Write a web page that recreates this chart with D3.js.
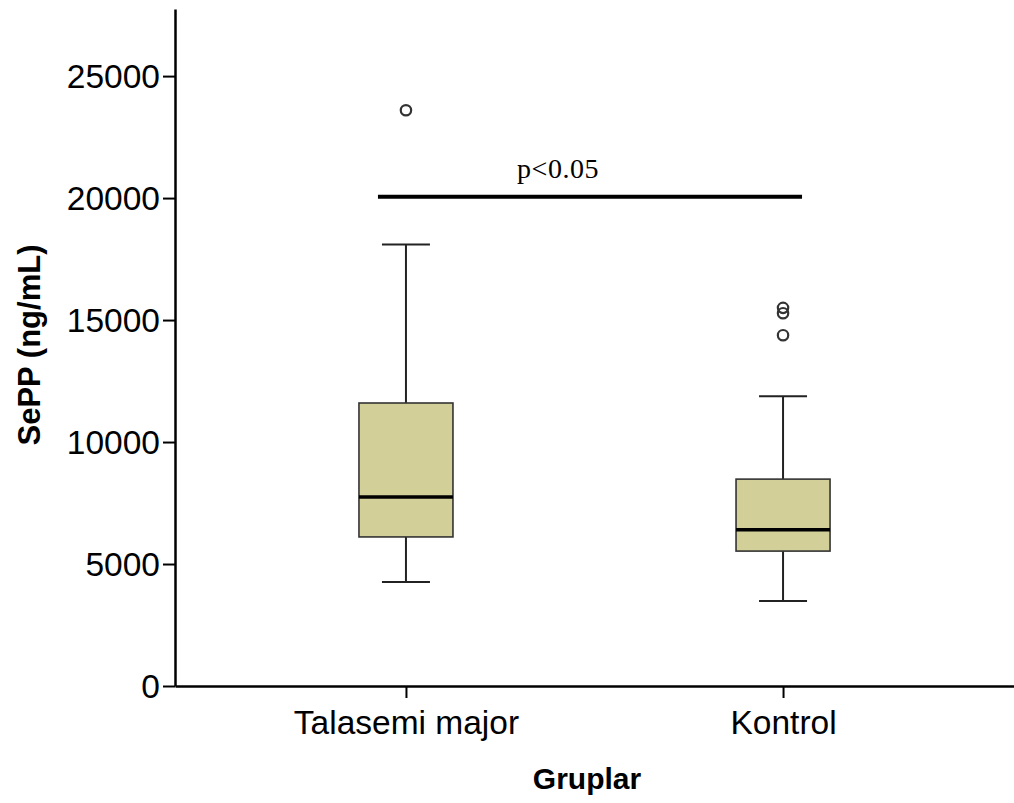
<!DOCTYPE html>
<html>
<head>
<meta charset="utf-8">
<script src="https://cdn.jsdelivr.net/npm/d3@7/dist/d3.min.js"></script>
<style>
  html, body { margin: 0; padding: 0; background: #fff; }
  svg { display: block; }
</style>
</head>
<body>
<svg id="chart" width="1014" height="803"></svg>
<script>
// Groups and five-number summaries of SePP (ng/mL)
const groups = ["Talasemi major", "Kontrol"];
const whiskerLow  = [4260, 3480];
const q1          = [6110, 5530];
const median      = [7750, 6400];
const q3          = [11600, 8480];
const whiskerHigh = [18100, 11880];
const outliers    = [[23600], [15500, 15280, 14380]];
const yTicks = [0, 5000, 10000, 15000, 20000, 25000];
const sigLabel = "p<0.05";
const sigValue = 20050;

const svg = d3.select("#chart");
const plotLeft = 175, plotRight = 1014, plotTop = 9, plotBottom = 686;

const y = d3.scaleLinear().domain([0, 27750]).range([plotBottom, plotTop]);
const x = d3.scalePoint().domain(groups).range([plotLeft, plotRight]).padding(0.6125);

const boxW = 94, capW = 48;

// Y axis
const yAxis = svg.append("g")
  .attr("transform", `translate(${plotLeft},0)`)
  .call(d3.axisLeft(y).tickValues(yTicks).tickSize(12).tickPadding(3).tickSizeOuter(0).tickFormat(d3.format("d")));
yAxis.select(".domain").attr("stroke", "#000").attr("stroke-width", 2.5);
yAxis.selectAll(".tick line").attr("stroke", "#000").attr("stroke-width", 2);
yAxis.selectAll(".tick text")
  .attr("font-family", "Liberation Sans, Arial, sans-serif")
  .attr("font-size", 33.5).attr("fill", "#000").attr("dy", "0.35em");

// X axis
const xAxis = svg.append("g")
  .attr("transform", `translate(0,${plotBottom})`)
  .call(d3.axisBottom(x).tickSize(12).tickPadding(12).tickSizeOuter(0));
xAxis.select(".domain").attr("stroke", "#000").attr("stroke-width", 2.5);
xAxis.selectAll(".tick line").attr("stroke", "#000").attr("stroke-width", 2);
xAxis.selectAll(".tick text")
  .attr("font-family", "Liberation Sans, Arial, sans-serif")
  .attr("font-size", 33.5).attr("fill", "#000");

// Axis titles
svg.append("text")
  .attr("transform", `translate(40,345) rotate(-90)`)
  .attr("text-anchor", "middle")
  .attr("font-family", "Liberation Sans, Arial, sans-serif")
  .attr("font-weight", "bold").attr("font-size", 31)
  .text("SePP (ng/mL)");
svg.append("text")
  .attr("x", 587).attr("y", 789)
  .attr("text-anchor", "middle")
  .attr("font-family", "Liberation Sans, Arial, sans-serif")
  .attr("font-weight", "bold").attr("font-size", 30)
  .text("Gruplar");

// Boxes
const data = groups.map((g, i) => ({
  g, lo: whiskerLow[i], q1: q1[i], med: median[i], q3: q3[i], hi: whiskerHigh[i], out: outliers[i]
}));
const box = svg.append("g").selectAll("g").data(data).join("g");

box.append("line")
  .attr("x1", d => x(d.g)).attr("x2", d => x(d.g))
  .attr("y1", d => y(d.q3)).attr("y2", d => y(d.hi))
  .attr("stroke", "#222").attr("stroke-width", 2);
box.append("line")
  .attr("x1", d => x(d.g)).attr("x2", d => x(d.g))
  .attr("y1", d => y(d.q1)).attr("y2", d => y(d.lo))
  .attr("stroke", "#222").attr("stroke-width", 2);
box.append("line")
  .attr("x1", d => x(d.g) - capW / 2).attr("x2", d => x(d.g) + capW / 2)
  .attr("y1", d => y(d.hi)).attr("y2", d => y(d.hi))
  .attr("stroke", "#222").attr("stroke-width", 2);
box.append("line")
  .attr("x1", d => x(d.g) - capW / 2).attr("x2", d => x(d.g) + capW / 2)
  .attr("y1", d => y(d.lo)).attr("y2", d => y(d.lo))
  .attr("stroke", "#222").attr("stroke-width", 2);
box.append("rect")
  .attr("x", d => x(d.g) - boxW / 2).attr("width", boxW)
  .attr("y", d => y(d.q3)).attr("height", d => y(d.q1) - y(d.q3))
  .attr("fill", "#d3cf99").attr("stroke", "#333").attr("stroke-width", 1.6);
box.append("line")
  .attr("x1", d => x(d.g) - boxW / 2).attr("x2", d => x(d.g) + boxW / 2)
  .attr("y1", d => y(d.med)).attr("y2", d => y(d.med))
  .attr("stroke", "#000").attr("stroke-width", 3.5);
box.selectAll("circle").data(d => d.out.map(v => ({ g: d.g, v }))).join("circle")
  .attr("cx", d => x(d.g)).attr("cy", d => y(d.v)).attr("r", 5.2)
  .attr("fill", "none").attr("stroke", "#333").attr("stroke-width", 2.2);

// Significance bar
svg.append("line")
  .attr("x1", x(groups[0]) - 28).attr("x2", x(groups[1]) + 19)
  .attr("y1", y(sigValue)).attr("y2", y(sigValue))
  .attr("stroke", "#000").attr("stroke-width", 4);
svg.append("text")
  .attr("x", 558).attr("y", 178)
  .attr("text-anchor", "middle")
  .attr("font-family", "Liberation Serif, Times New Roman, serif")
  .attr("font-size", 28).attr("letter-spacing", 0.5)
  .text(sigLabel);
</script>
</body>
</html>
